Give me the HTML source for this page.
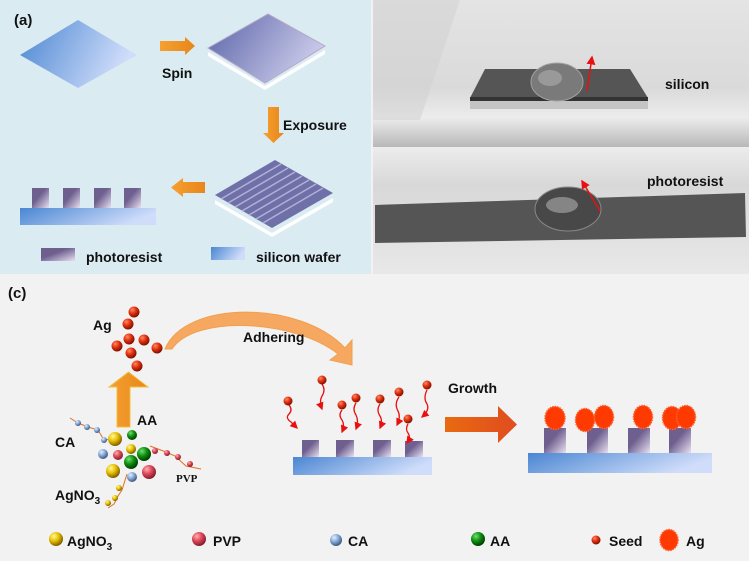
<!DOCTYPE html>
<html><head><meta charset="utf-8"><style>html,body{margin:0;padding:0;background:#fff}svg{display:block}text{font-family:"Liberation Sans",sans-serif;font-weight:bold;fill:#111}</style></head><body>
<svg width="749" height="561" viewBox="0 0 749 561" xmlns="http://www.w3.org/2000/svg">
<defs>
<linearGradient id="bl" x1="0" y1="0" x2="1" y2="0.3"><stop offset="0" stop-color="#4a86d2"/><stop offset="1" stop-color="#d0ddfa"/></linearGradient>
<linearGradient id="pu" x1="0" y1="0" x2="1" y2="0.4"><stop offset="0" stop-color="#5a64a8"/><stop offset="1" stop-color="#c8c8e8"/></linearGradient>
<linearGradient id="pr" x1="0" y1="0" x2="1" y2="1"><stop offset="0.4" stop-color="#6e5f8f"/><stop offset="1" stop-color="#e8e0f0"/></linearGradient>
<linearGradient id="or" x1="0" y1="0" x2="1" y2="0"><stop offset="0" stop-color="#f5a030"/><stop offset="1" stop-color="#e8861a"/></linearGradient>
<linearGradient id="or2" x1="0" y1="0" x2="1" y2="0"><stop offset="0" stop-color="#e86a10"/><stop offset="1" stop-color="#e04c20"/></linearGradient>
<radialGradient id="rd" cx="0.35" cy="0.3" r="0.7"><stop offset="0" stop-color="#ff8a60"/><stop offset="0.5" stop-color="#e03010"/><stop offset="1" stop-color="#801000"/></radialGradient>
<radialGradient id="ye" cx="0.35" cy="0.3" r="0.7"><stop offset="0" stop-color="#fff8a0"/><stop offset="0.5" stop-color="#e8c000"/><stop offset="1" stop-color="#806000"/></radialGradient>
<radialGradient id="gr" cx="0.35" cy="0.3" r="0.7"><stop offset="0" stop-color="#70e070"/><stop offset="0.5" stop-color="#109010"/><stop offset="1" stop-color="#004000"/></radialGradient>
<radialGradient id="bu" cx="0.35" cy="0.3" r="0.7"><stop offset="0" stop-color="#e0f0ff"/><stop offset="0.5" stop-color="#88aad8"/><stop offset="1" stop-color="#405a80"/></radialGradient>
<radialGradient id="pk" cx="0.35" cy="0.3" r="0.7"><stop offset="0" stop-color="#ffb0b0"/><stop offset="0.5" stop-color="#e04858"/><stop offset="1" stop-color="#802030"/></radialGradient>
<linearGradient id="ph1" x1="0" y1="0" x2="0" y2="1"><stop offset="0" stop-color="#e4e4e4"/><stop offset="0.6" stop-color="#dadada"/><stop offset="0.8" stop-color="#ececec"/><stop offset="1" stop-color="#b8b8b8"/></linearGradient>
<linearGradient id="ph2" x1="0" y1="0" x2="0" y2="1"><stop offset="0" stop-color="#ececec"/><stop offset="0.3" stop-color="#d8d8d8"/><stop offset="1" stop-color="#e8e8e8"/></linearGradient>
<marker id="ah" markerWidth="6" markerHeight="6" refX="5" refY="3" orient="auto"><path d="M0,0 L6,3 L0,6 z" fill="#e81010"/></marker>
</defs>
<rect width="749" height="561" fill="#f2f2f2"/>
<!-- (a) -->
<rect x="0" y="0" width="371" height="274" fill="#daebf2"/>
<text x="14" y="25" font-size="15">(a)</text>
<polygon points="20,55 78,20 137,55 78,88" fill="url(#bl)"/>
<polygon points="160,41 185,41 185,37 195,46 185,55 185,51 160,51" fill="url(#or)"/>
<text x="162" y="78" font-size="14">Spin</text>
<polygon points="208,52 265,86 325,50 325,54 265,90 208,56" fill="#fff"/>
<polygon points="208,48 268,14 325,46 265,83" fill="url(#pu)" stroke="#b8a8c8"/>
<polygon points="268,107 279,107 279,133 284,133 273.5,143 263,133 268,133" fill="url(#or)"/>
<text x="283" y="130" font-size="14">Exposure</text>
<polygon points="215,200 272,233 333,198 333,202 272,237 215,204" fill="#fff"/>
<polygon points="215,195 275,160 333,193 272,228" fill="#7070a8"/>
<g stroke="#b0b0d8" stroke-width="1.5">
<line x1="221" y1="199" x2="281" y2="164"/><line x1="228" y1="203" x2="288" y2="168"/><line x1="235" y1="207" x2="295" y2="172"/><line x1="242" y1="211" x2="302" y2="176"/><line x1="249" y1="215" x2="309" y2="180"/><line x1="256" y1="219" x2="316" y2="184"/><line x1="263" y1="223" x2="323" y2="188"/></g>
<polygon points="205,182 183,182 183,178 171,187.5 183,197 183,193 205,193" fill="url(#or)"/>
<rect x="20" y="208" width="136" height="17" fill="url(#bl)"/>
<rect x="32" y="188" width="17" height="20" fill="url(#pr)"/><rect x="63" y="188" width="17" height="20" fill="url(#pr)"/><rect x="94" y="188" width="17" height="20" fill="url(#pr)"/><rect x="124" y="188" width="17" height="20" fill="url(#pr)"/>
<rect x="41" y="248" width="34" height="13" fill="url(#pr)"/>
<text x="86" y="262" font-size="14">photoresist</text>
<rect x="211" y="247" width="34" height="13" fill="url(#bl)"/>
<text x="256" y="262" font-size="14">silicon wafer</text>
<!-- (b) -->
<rect x="373" y="0" width="376" height="147" fill="url(#ph1)"/>
<polygon points="373,0 460,0 420,120 373,120" fill="#d0d0d0" opacity="0.5"/>
<polygon points="485,69 630,69 648,98 470,98" fill="#555"/>
<rect x="470" y="97" width="178" height="4" fill="#333"/>
<rect x="470" y="101" width="178" height="8" fill="#c4c4c4"/>
<ellipse cx="557" cy="82" rx="26" ry="19" fill="#7a7a7a" stroke="#a0a0a0"/>
<ellipse cx="550" cy="78" rx="12" ry="8" fill="#999"/>
<line x1="587" y1="91" x2="592" y2="57" stroke="#e81010" stroke-width="1.5" marker-end="url(#ah)"/>
<text x="665" y="89" font-size="14">silicon</text>
<rect x="373" y="147" width="376" height="127" fill="url(#ph2)"/>
<polygon points="375,205 745,193 746,237 375,243" fill="#555"/>
<ellipse cx="568" cy="209" rx="33" ry="22" fill="#484848" stroke="#888"/>
<ellipse cx="562" cy="205" rx="16" ry="8" fill="#858585"/>
<line x1="600" y1="211" x2="582" y2="181" stroke="#e81010" stroke-width="1.5" marker-end="url(#ah)"/>
<text x="647" y="186" font-size="14">photoresist</text>
<!-- (c) -->
<text x="8" y="298" font-size="15">(c)</text>
<text x="93" y="330" font-size="14">Ag</text>
<g fill="url(#rd)"><circle cx="134" cy="312" r="5.5"/><circle cx="128" cy="324" r="5.5"/><circle cx="117" cy="346" r="5.5"/><circle cx="129" cy="339" r="5.5"/><circle cx="144" cy="340" r="5.5"/><circle cx="157" cy="348" r="5.5"/><circle cx="131" cy="353" r="5.5"/><circle cx="137" cy="366" r="5.5"/></g>
<path d="M165,349 C185,300 300,300 345,348 L352,340 L352,365 L330,360 L338,354 C295,320 195,314 172,349 Z" fill="#f7a860" stroke="#f0a050"/>
<text x="243" y="342" font-size="14">Adhering</text>
<polygon points="117,427 130,427 130,387 148,387 128.5,372 109,387 117,387" fill="url(#or)" stroke="#f0c040"/>
<text x="137" y="425" font-size="14">AA</text>
<text x="55" y="447" font-size="14">CA</text>
<text x="55" y="500" font-size="14">AgNO<tspan font-size="10" dy="4">3</tspan></text>
<text x="176" y="482" font-size="11" style="font-family:'Liberation Serif',serif">PVP</text>
<g fill="none" stroke="#e07020" stroke-width="1">
<path d="M70,418 L78,423 L88,427 L98,430 L104,440 L113,439"/>
<path d="M150,446 L158,449 L166,452 L175,456 L186,466 L201,469"/>
<path d="M127,474 L122,490 L118,496 L114,504 L108,508"/></g>
<g fill="url(#bu)"><circle cx="78" cy="423" r="3"/><circle cx="87" cy="427" r="3"/><circle cx="97" cy="430" r="3"/><circle cx="104" cy="440" r="3"/></g>
<g fill="url(#pk)"><circle cx="155" cy="451" r="3"/><circle cx="167" cy="453" r="3"/><circle cx="178" cy="457" r="3"/><circle cx="190" cy="464" r="3"/></g>
<g fill="url(#ye)"><circle cx="119" cy="488" r="3"/><circle cx="115" cy="498" r="3"/><circle cx="108" cy="503" r="3"/></g>
<circle cx="115" cy="439" r="7" fill="url(#ye)"/><circle cx="132" cy="435" r="5" fill="url(#gr)"/><circle cx="131" cy="449" r="5" fill="url(#ye)"/><circle cx="103" cy="454" r="5" fill="url(#bu)"/><circle cx="118" cy="455" r="5" fill="url(#pk)"/><circle cx="144" cy="454" r="7" fill="url(#gr)"/><circle cx="131" cy="462" r="7" fill="url(#gr)"/><circle cx="113" cy="471" r="7" fill="url(#ye)"/><circle cx="132" cy="477" r="5" fill="url(#bu)"/><circle cx="149" cy="472" r="7" fill="url(#pk)"/>
<!-- middle -->
<rect x="293" y="457" width="139" height="18" fill="url(#bl)"/>
<rect x="302" y="440" width="17" height="17" fill="url(#pr)"/><rect x="336" y="440" width="18" height="17" fill="url(#pr)"/><rect x="373" y="440" width="18" height="17" fill="url(#pr)"/><rect x="405" y="441" width="18" height="16" fill="url(#pr)"/>
<g fill="none" stroke="#e81010" stroke-width="1.3" marker-end="url(#ah)">
<path d="M289,405 q4,5 0,9 q-4,4 2,8 l6,6"/><path d="M322,384 q4,6 0,12 q-3,5 0,13"/><path d="M342,410 q-4,5 0,10 q3,5 0,12"/><path d="M356,403 q-4,6 0,12 q3,6 0,14"/><path d="M380,404 q-4,6 0,12 q3,5 0,12"/><path d="M399,397 q-5,7 -1,14 q3,6 -1,14"/><path d="M427,390 q-4,8 0,14 q3,6 -5,13"/><path d="M408,424 q-3,5 0,9 q3,4 -1,10"/></g>
<g fill="url(#rd)"><circle cx="288" cy="401" r="4.5"/><circle cx="322" cy="380" r="4.5"/><circle cx="342" cy="405" r="4.5"/><circle cx="356" cy="398" r="4.5"/><circle cx="380" cy="399" r="4.5"/><circle cx="399" cy="392" r="4.5"/><circle cx="427" cy="385" r="4.5"/><circle cx="408" cy="419" r="4.5"/></g>
<text x="448" y="393" font-size="14">Growth</text>
<polygon points="445,417 498,417 498,406 517,424.5 498,443 498,432 445,432" fill="url(#or2)"/>
<!-- right -->
<rect x="528" y="453" width="184" height="20" fill="url(#bl)"/>
<rect x="544" y="428" width="22" height="25" fill="url(#pr)"/><rect x="587" y="428" width="21" height="25" fill="url(#pr)"/><rect x="628" y="428" width="22" height="25" fill="url(#pr)"/><rect x="669" y="428" width="22" height="25" fill="url(#pr)"/>
<g fill="#ff3a00" stroke="#ff6030" stroke-width="1.5" stroke-dasharray="1.5 1"><ellipse cx="555" cy="418" rx="10" ry="11.5"/><ellipse cx="585" cy="420" rx="9.5" ry="11.5"/><ellipse cx="604" cy="417" rx="9.5" ry="11.5"/><ellipse cx="643" cy="417" rx="9.5" ry="11.5"/><ellipse cx="672" cy="418" rx="9.5" ry="11.5"/><ellipse cx="686" cy="417" rx="9.5" ry="11.5"/>
<ellipse cx="669" cy="540" rx="9" ry="10.5"/></g>
<!-- legend -->
<circle cx="56" cy="539" r="7" fill="url(#ye)"/><text x="67" y="546" font-size="14">AgNO<tspan font-size="10" dy="4">3</tspan></text>
<circle cx="199" cy="539" r="7" fill="url(#pk)"/><text x="213" y="546" font-size="14">PVP</text>
<circle cx="336" cy="540" r="6" fill="url(#bu)"/><text x="348" y="546" font-size="14">CA</text>
<circle cx="478" cy="539" r="7" fill="url(#gr)"/><text x="490" y="546" font-size="14">AA</text>
<circle cx="596" cy="540" r="4.5" fill="url(#rd)"/><text x="609" y="546" font-size="14">Seed</text>
<text x="686" y="546" font-size="14">Ag</text>
</svg>
</body></html>
